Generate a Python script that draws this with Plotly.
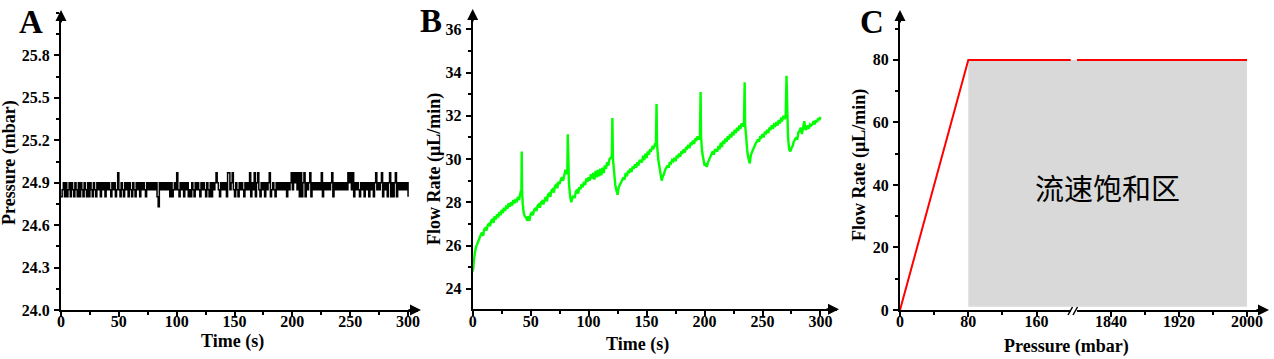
import plotly.graph_objects as go

# ---------------- data ----------------
# Panel A: pressure vs time (1 s sampling)
pressure_time_s = list(range(0, 301))
pressure_mbar = [
    24.8, 24.85, 24.9, 24.8, 24.9, 24.8, 24.85, 24.9, 24.8, 24.9,
    24.85, 24.8, 24.9, 24.85, 24.8, 24.9, 24.8, 24.9, 24.85, 24.8,
    24.9, 24.85, 24.8, 24.9, 24.8, 24.9, 24.85, 24.8, 24.9, 24.85,
    24.8, 24.9, 24.85, 24.9, 24.8, 24.9, 24.85, 24.9, 24.8, 24.9,
    24.85, 24.9, 24.85, 24.8, 24.9, 24.85, 24.9, 24.8, 24.85, 24.97,
    24.85, 24.8, 24.9, 24.85, 24.8, 24.9, 24.85, 24.9, 24.8, 24.9,
    24.85, 24.8, 24.9, 24.85, 24.8, 24.9, 24.85, 24.9, 24.8, 24.9,
    24.85, 24.9, 24.85, 24.8, 24.9, 24.85, 24.9, 24.85, 24.9, 24.85,
    24.9, 24.85, 24.9, 24.8, 24.73, 24.9, 24.85, 24.9, 24.85, 24.9,
    24.85, 24.9, 24.85, 24.9, 24.8, 24.9, 24.8, 24.85, 24.9, 24.85,
    24.97, 24.85, 24.8, 24.9, 24.85, 24.9, 24.8, 24.9, 24.85, 24.9,
    24.8, 24.85, 24.8, 24.9, 24.85, 24.8, 24.9, 24.85, 24.9, 24.85,
    24.8, 24.9, 24.85, 24.9, 24.85, 24.8, 24.9, 24.85, 24.8, 24.9,
    24.8, 24.9, 24.85, 24.9, 24.97, 24.9, 24.85, 24.8, 24.9, 24.85,
    24.9, 24.85, 24.9, 24.8, 24.97, 24.97, 24.85, 24.9, 24.97, 24.85,
    24.8, 24.9, 24.85, 24.8, 24.9, 24.85, 24.9, 24.85, 24.8, 24.9,
    24.85, 24.9, 24.85, 24.97, 24.8, 24.9, 24.85, 24.97, 24.8, 24.9,
    24.97, 24.85, 24.8, 24.9, 24.85, 24.9, 24.8, 24.9, 24.85, 24.9,
    24.97, 24.8, 24.85, 24.9, 24.85, 24.8, 24.9, 24.85, 24.9, 24.85,
    24.9, 24.85, 24.9, 24.85, 24.9, 24.8, 24.9, 24.85, 24.9, 24.97,
    24.85, 24.97, 24.9, 24.97, 24.85, 24.97, 24.8, 24.97, 24.8, 24.9,
    24.97, 24.8, 24.9, 24.85, 24.9, 24.97, 24.8, 24.9, 24.85, 24.9,
    24.85, 24.9, 24.85, 24.9, 24.85, 24.97, 24.8, 24.9, 24.85, 24.9,
    24.85, 24.9, 24.85, 24.9, 24.97, 24.8, 24.9, 24.85, 24.9, 24.85,
    24.9, 24.85, 24.9, 24.85, 24.9, 24.85, 24.9, 24.85, 24.97, 24.9,
    24.97, 24.85, 24.97, 24.8, 24.9, 24.85, 24.9, 24.85, 24.8, 24.9,
    24.85, 24.9, 24.8, 24.9, 24.85, 24.9, 24.8, 24.9, 24.85, 24.9,
    24.8, 24.9, 24.97, 24.85, 24.9, 24.85, 24.9, 24.97, 24.8, 24.9,
    24.85, 24.9, 24.8, 24.9, 24.97, 24.8, 24.9, 24.8, 24.9, 24.97,
    24.8, 24.9, 24.85, 24.9, 24.85, 24.9, 24.85, 24.9, 24.85, 24.9, 24.8,
]

# Panel B: flow rate vs time
flow_time_s = [
    0, 0.5, 1, 1.5, 2, 3, 4, 5, 6, 7, 8, 9, 10, 11, 12, 13, 14, 15, 16, 17, 18, 19, 20,
    21, 22, 23, 24, 25, 26, 27, 28, 29, 30, 31, 32, 33, 34, 35, 36, 37, 38, 39, 40, 41, 41.6, 42,
    42.3, 42.6, 43.2, 44, 45, 46, 47, 48, 49, 50,
    51, 52, 53, 54, 55, 56, 57, 58, 59, 60, 61, 62, 63, 64, 65, 66, 67, 68, 69, 70,
    71, 72, 73, 74, 75, 76, 77, 78, 79, 80, 81, 81.6,
    82, 82.4, 83, 84, 85, 86, 87,
    88, 89, 90, 91, 92, 93, 94, 95, 96, 97, 98, 99, 100, 101, 102, 103, 104,
    105, 106, 107, 108, 109, 110, 111, 112, 113, 114, 115, 116, 117, 118, 119, 120,
    120.5, 121, 122, 123, 124, 125, 126, 127,
    128, 129, 130, 131, 132, 133, 134, 135, 136, 137, 138, 139, 140, 141, 142, 143,
    144, 145, 146, 147, 148, 149, 150, 151, 152, 153, 154, 155, 156, 157, 158,
    158.6, 159, 160, 161, 162, 163, 164, 165,
    166, 167, 168, 169, 170, 171, 172, 173, 174, 175, 176, 177, 178, 179, 180, 181,
    182, 183, 184, 185, 186, 187, 188, 189, 190, 191, 192, 193, 194, 195, 196,
    196.6, 197, 198, 199, 200, 201, 202, 203,
    204, 205, 206, 207, 208, 209, 210, 211, 212, 213, 214, 215, 216, 217, 218, 219,
    220, 221, 222, 223, 224, 225, 226, 227, 228, 229, 230, 231, 232, 233, 234,
    234.6, 235, 236, 237, 238, 239, 240, 241,
    242, 243, 244, 245, 246, 247, 248, 249, 250, 251, 252, 253, 254, 255, 256,
    257, 258, 259, 260, 261, 262, 263, 264, 265, 266, 267, 268, 269, 270,
    270.7, 271.2, 272, 273, 274, 275, 276,
    277, 278, 279, 280, 281, 282, 283, 284, 285, 286, 287, 288, 289, 290,
    291, 292, 293, 294, 295, 296, 297, 298, 299, 300,
]
flow_rate_ulmin = [
    24.8, 24.95, 25.3, 25.6, 25.7, 25.95, 26.1, 26.3, 26.45, 26.5, 26.6, 26.45, 26.75, 26.8, 26.7, 26.95, 27.0, 26.9, 27.15, 27.2, 27.05, 27.35, 27.2,
    27.45, 27.3, 27.55, 27.4, 27.65, 27.5, 27.75, 27.6, 27.85, 27.7, 27.95, 27.8, 28.0, 27.85, 28.1, 27.95, 28.15, 28.0, 28.25, 28.1, 28.35, 28.55, 28.45,
    30.35, 28.5, 27.9, 27.5, 27.35, 27.3, 27.15, 27.35, 27.15, 27.45,
    27.55, 27.4, 27.65, 27.7, 27.6, 27.85, 27.9, 27.75, 28.0, 28.05, 27.9, 28.15, 28.25, 28.05, 28.35, 28.4, 28.25, 28.55, 28.6, 28.45,
    28.75, 28.8, 28.65, 28.95, 28.85, 29.05, 29.15, 29.0, 29.35, 29.5, 29.35, 29.3,
    31.15, 29.6, 28.9, 28.3, 28.0, 28.2, 28.3,
    28.2, 28.5, 28.55, 28.4, 28.7, 28.6, 28.85, 28.7, 28.95, 28.8, 29.1, 28.95, 29.15, 29.0, 29.3, 29.1, 29.35,
    29.05, 29.45, 29.15, 29.5, 29.2, 29.55, 29.25, 29.6, 29.35, 29.7, 29.55, 29.85, 29.7, 30.0, 30.05, 30.15,
    31.9, 30.0, 29.2, 28.8, 28.55, 28.35, 28.7, 28.8,
    28.95, 29.05, 29.15, 29.05, 29.35, 29.2, 29.45, 29.4, 29.55, 29.4, 29.65, 29.55, 29.75, 29.6, 29.85, 29.7,
    29.95, 29.9, 29.85, 30.15, 29.95, 30.25, 30.05, 30.35, 30.2, 30.45, 30.4, 30.55, 30.5, 30.65, 30.6,
    32.55, 30.7, 30.0, 29.6, 29.2, 29.0, 29.2, 29.3,
    29.5, 29.6, 29.7, 29.6, 29.85, 29.8, 29.95, 29.9, 30.05, 29.9, 30.15, 30.1, 30.25, 30.1, 30.35, 30.3,
    30.45, 30.3, 30.55, 30.5, 30.65, 30.5, 30.75, 30.7, 30.85, 30.7, 30.95, 30.9, 31.05, 30.9, 31.05,
    33.1, 31.0, 30.3, 29.9, 29.7, 29.75, 29.65, 29.85,
    30.0, 30.1, 30.2, 30.35, 30.2, 30.45, 30.4, 30.35, 30.6, 30.45, 30.75, 30.55, 30.85, 30.7, 30.95, 30.8,
    31.05, 30.9, 31.15, 31.0, 31.25, 31.1, 31.35, 31.2, 31.45, 31.3, 31.55, 31.4, 31.65, 31.5, 31.65,
    33.55, 31.6, 30.8, 30.3, 30.0, 29.8, 30.2, 30.35,
    30.5, 30.65, 30.7, 30.8, 30.9, 30.8, 31.05, 31.0, 31.15, 31.0, 31.25, 31.2, 31.35, 31.2, 31.45,
    31.4, 31.55, 31.4, 31.6, 31.55, 31.7, 31.55, 31.8, 31.65, 31.85, 31.8, 32.0, 31.85, 32.0,
    33.85, 31.9, 31.0, 30.45, 30.35, 30.5, 30.6,
    30.8, 30.9, 31.0, 30.9, 31.25, 31.3, 31.45, 31.15, 31.4, 31.75, 31.35, 31.4, 31.55, 31.4,
    31.6, 31.55, 31.6, 31.75, 31.6, 31.8, 31.7, 31.9, 31.8, 31.95,
]
assert len(flow_time_s) == len(flow_rate_ulmin), (len(flow_time_s), len(flow_rate_ulmin))

# Panel C: flow rate vs pressure (broken x axis)
c_pressure_low = [0, 80, 200]
c_flow_low = [0, 80, 80]
c_pressure_high = [1800, 2000]
c_flow_high = [80, 80]
sat_zone_pressure = [80, 2000]
sat_zone_flow = [1, 80]
sat_zone_label = "流速饱和区"

# ticks
a_xticks = [0, 50, 100, 150, 200, 250, 300]
a_yticks = [24.0, 24.3, 24.6, 24.9, 25.2, 25.5, 25.8]
b_xticks = [0, 50, 100, 150, 200, 250, 300]
b_yticks = [24, 26, 28, 30, 32, 34, 36]
c_xticks_low = [0, 80, 160]
c_xminor_low = [40, 120]
c_xticks_high = [1840, 1920, 2000]
c_xminor_high = [1880, 1960]
c_yticks = [0, 20, 40, 60, 80]

# ---------------- layout helpers ----------------
W, H = 1274, 359
def px(x):
    return x / W
def py(y):
    return 1 - y / H

FONT = "Liberation Serif, Times New Roman, serif"
tickfont = dict(family=FONT, size=16, color="black", weight="bold")

def axis(**kw):
    base = dict(showline=True, linecolor="black", linewidth=2, mirror=False,
                ticks="outside", ticklen=5, tickwidth=2, tickcolor="black",
                showgrid=False, zeroline=False, automargin=False,
                tickfont=tickfont, ticklabelstandoff=1, fixedrange=True)
    base.update(kw)
    return base

def xaxis(**kw):
    return axis(ticklabelstandoff=-9, **kw)

def minor(**kw):
    m = dict(ticks="outside", ticklen=3, tickwidth=1.5, tickcolor="black", showgrid=False)
    m.update(kw)
    return m

fig = go.Figure()
fig.add_trace(go.Scatter(x=pressure_time_s, y=pressure_mbar, mode="lines",
                         line=dict(color="black", width=1.5, shape="hv"), xaxis="x", yaxis="y"))
fig.add_trace(go.Scatter(x=flow_time_s, y=flow_rate_ulmin, mode="lines",
                         line=dict(color="#00ff00", width=2.4), xaxis="x2", yaxis="y2"))
fig.add_trace(go.Scatter(x=c_pressure_low, y=c_flow_low, mode="lines",
                         line=dict(color="#ff0000", width=2), xaxis="x3", yaxis="y3"))
fig.add_trace(go.Scatter(x=c_pressure_high, y=c_flow_high, mode="lines",
                         line=dict(color="#ff0000", width=2), xaxis="x4", yaxis="y3"))

left_end = 200.3
right_start = 1800
fig.update_layout(
    width=W, height=H, autosize=False, template="none",
    margin=dict(l=0, r=0, t=0, b=0, pad=0),
    paper_bgcolor="white", plot_bgcolor="rgba(0,0,0,0)",
    showlegend=False,
    font=dict(family=FONT, size=16, color="black"),
    xaxis=xaxis(domain=[px(61), px(418)], range=[0, 308.6], anchor="y",
                tickvals=a_xticks, minor=minor(dtick=25, tick0=0)),
    yaxis=axis(domain=[py(310), py(13)], range=[24.0, 26.1], anchor="x",
               tickvals=a_yticks, tickformat=".1f", minor=minor(dtick=0.15, tick0=24.0)),
    xaxis2=xaxis(domain=[px(472.7), px(836.7)], range=[0, 314], anchor="y2",
                 tickvals=b_xticks, minor=minor(dtick=25, tick0=0)),
    yaxis2=axis(domain=[py(309.3), py(12)], range=[23.05, 36.8], anchor="x2",
                tickvals=b_yticks, minor=minor(dtick=1, tick0=0)),
    xaxis3=xaxis(domain=[px(900), px(1071)], range=[0, left_end], anchor="y3",
                 tickvals=c_xticks_low, minor=minor(tickvals=c_xminor_low)),
    xaxis4=xaxis(domain=[px(1077), px(1264)], range=[right_start, 2020], anchor="y3",
                 tickvals=c_xticks_high, minor=minor(tickvals=c_xminor_high)),
    yaxis3=axis(domain=[py(310), py(13)], range=[0, 95], anchor="x3",
                tickvals=c_yticks, minor=minor(dtick=10, tick0=0)),
)

# saturation zone (grey), split across the broken axis
grey = "#d9d9d9"
fig.add_shape(type="rect", xref="x3", yref="y3", x0=sat_zone_pressure[0], x1=left_end,
              y0=sat_zone_flow[0], y1=sat_zone_flow[1], fillcolor=grey, line_width=0, layer="below")
fig.add_shape(type="rect", xref="x4", yref="y3", x0=right_start, x1=sat_zone_pressure[1],
              y0=sat_zone_flow[0], y1=sat_zone_flow[1], fillcolor=grey, line_width=0, layer="below")
fig.add_shape(type="rect", xref="paper", yref="y3", x0=px(1070.5), x1=px(1077.5),
              y0=sat_zone_flow[0], y1=sat_zone_flow[1], fillcolor=grey, line_width=0, layer="below")

# axis break marks
for x0 in (1068, 1073):
    fig.add_shape(type="line", xref="paper", yref="paper",
                  x0=px(x0), y0=py(315), x1=px(x0 + 4.5), y1=py(307),
                  line=dict(color="black", width=1.5))

ann = []
# axis arrows
def arrow(xp, yp, ax, ay):
    ann.append(dict(x=px(xp), y=py(yp), xref="paper", yref="paper", text="",
                    showarrow=True, ax=ax, ay=ay, arrowhead=2, arrowsize=1.1,
                    arrowwidth=2, arrowcolor="black"))
arrow(61, 10, 0, 14)
arrow(421, 310, -14, 0)
arrow(472.7, 9, 0, 14)
arrow(839, 309.3, -14, 0)
arrow(900, 10, 0, 14)
arrow(1269, 310, -14, 0)

def text(xp, yp, s, size=18, angle=0, family=FONT, weight="bold"):
    ann.append(dict(x=px(xp), y=py(yp), xref="paper", yref="paper", text=s,
                    showarrow=False, textangle=angle, xanchor="center", yanchor="middle",
                    font=dict(family=family, size=size, color="black", weight=weight)))

# axis titles
text(232, 341, "Time (s)")
text(9, 163, "Pressure (mbar)", angle=-90)
text(638, 344, "Time (s)")
text(434, 169, "Flow Rate (μL/min)", angle=-90)
text(1066, 346, "Pressure (mbar)")
text(860, 165, "Flow Rate (μL/min)", angle=-90)
# panel letters
text(30.5, 22, "A", size=33)
text(431, 21, "B", size=33)
text(871.5, 22, "C", size=33)
# saturation zone label
text(1107, 187, sat_zone_label, size=29, family="Noto Sans CJK SC", weight="normal")

fig.update_layout(annotations=ann)
fig.write_html("out.html", config={"displayModeBar": False},
               post_script="document.body.style.margin='0px';document.body.style.overflow='hidden';")
